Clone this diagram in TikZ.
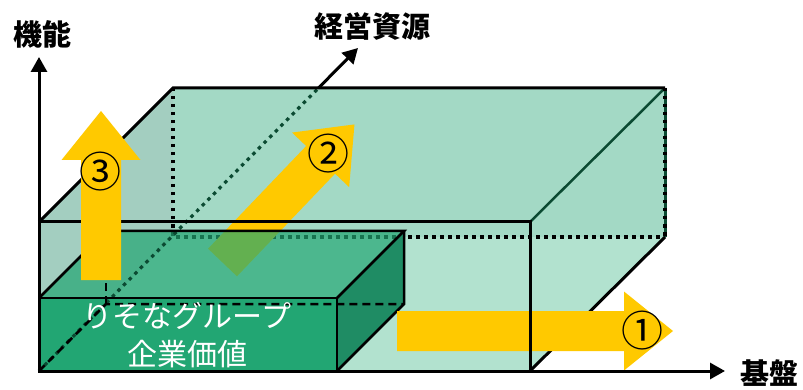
\documentclass[tikz,border=0pt]{standalone}
\usepackage{fontspec}
\setmainfont{Noto Sans CJK JP}
\usetikzlibrary{arrows.meta,calc}
\definecolor{yel}{HTML}{FFC900}
\definecolor{outerlight}{HTML}{B2E2CF}
\definecolor{outerback}{HTML}{A3D9C5}
\definecolor{outerleft}{HTML}{A3CEC0}
\definecolor{innertop}{HTML}{22A673}
\definecolor{innerfront}{HTML}{22A673}
\definecolor{innerright}{HTML}{1F8C64}
\definecolor{dkgreen}{HTML}{0B4A32}
\tikzset{
  edge/.style={line width=3pt, black},
  iedge/.style={line width=2.5pt, black},
  blackdots/.style={line width=3.2pt, black, dash pattern=on 3.5pt off 4.5pt},
  greendots/.style={line width=3.2pt, dkgreen, dash pattern=on 3.5pt off 4.5pt},
  idash/.style={line width=2.5pt, black, dash pattern=on 8pt off 5pt},
  axis/.style={line width=3pt, black, -{Triangle[length=15pt,width=16pt]}},
  axlabel/.style={font=\fontsize{29}{34}\selectfont\bfseries, inner sep=0pt},
  numlabel/.style={font=\fontsize{42}{44}\selectfont, inner sep=0pt},
  pics/yarrow/.style={code={
    \fill[yel] (0,-20) -- (#1-49,-20) -- (#1-49,-39.5) -- (#1,0) -- (#1-49,39.5) -- (#1-49,20) -- (0,20) -- cycle;}}
}
\begin{document}
\begin{tikzpicture}[x=1pt,y=-1pt,line join=miter]
\useasboundingbox (0,0) rectangle (803,390);
% outer box corners
\coordinate (O) at (39,371);
\coordinate (F1) at (39,222);
\coordinate (F2) at (530,222);
\coordinate (F3) at (530,371);
\coordinate (B0) at (173,237);
\coordinate (B1) at (173,88);
\coordinate (B2) at (665,88);
\coordinate (B3) at (665,237);
\coordinate (AX) at (318.5,88);
\coordinate (AXT) at (358,48);
% inner box corners
\coordinate (I1) at (39,298);
\coordinate (I2) at (337,298);
\coordinate (I3) at (337,371);
\coordinate (J0) at (106,304);
\coordinate (J1) at (106,231);
\coordinate (J2) at (404,231);
\coordinate (J3) at (404,304);
% outer fills
\fill[outerlight] (O) -- (F1) -- (B1) -- (B2) -- (B3) -- (F3) -- cycle;
\fill[outerback] (B1) rectangle (B3);
\fill[outerleft] (O) -- (F1) -- (B1) -- (B0) -- cycle;
% outer hidden edges
\draw[blackdots] (B1) -- (B0) -- (B3);
% arrow 2
\pic[rotate=46.3] at (222.5,262.5) {yarrow=191};
% inner box faces
\fill[innertop, opacity=0.7] (I1) -- (J1) -- (J2) -- (I2) -- cycle;
\fill[innerfront] (I1) rectangle (I3);
\fill[innerright] (I2) -- (J2) -- (J3) -- (I3) -- cycle;
% axis through the box (hidden)
\draw[greendots] (O) -- (AX);
% inner hidden edges
\draw[idash] (O) -- (J0) -- (J3);
\draw[idash] (J0) -- (J1);
% inner visible edges
\draw[iedge] (I1) rectangle (I3);
\draw[iedge] (I1) -- (J1) -- (J2) -- (I2);
\draw[iedge] (J2) -- (J3) -- (I3);
% outer visible edges
\draw[line width=2.5pt, dkgreen] (F2) -- (B2);
\draw[line width=3pt, dkgreen] (B2) -- (B3);
\draw[blackdots] (B2) -- (B3);
\draw[edge] (F1) -- (B1) -- (B2);
\draw[edge] (F3) -- (B3);
% arrow 1
\pic at (397,331) {yarrow=276};
\draw[edge] (F1) rectangle (F3);
% text in inner box
\node[text=white, font=\fontsize{30}{36}\selectfont, inner sep=0pt] (t1) at (187,316) {りそなグループ};
\node[text=white, font=\fontsize{30}{36}\selectfont, inner sep=0pt] (t2) at (187,354) {企業価値};
% arrow 3
\pic[rotate=90] at (101,280) {yarrow=169};
% axes
\draw[axis] (O) -- (39,57);
\draw[axis] (O) -- (725,371);
\draw[axis] (AX) -- (AXT);
% labels
\node[axlabel] (l1) at (42,34) {機能};
\node[axlabel] (l2) at (372,26) {経営資源};
\node[axlabel] (l3) at (769,373) {基盤};
\node[numlabel] (n1) at (642,331) {①};
\node[numlabel] (n2) at (328,154) {②};
\node[numlabel] (n3) at (100,172) {③};
\end{tikzpicture}
\end{document}
